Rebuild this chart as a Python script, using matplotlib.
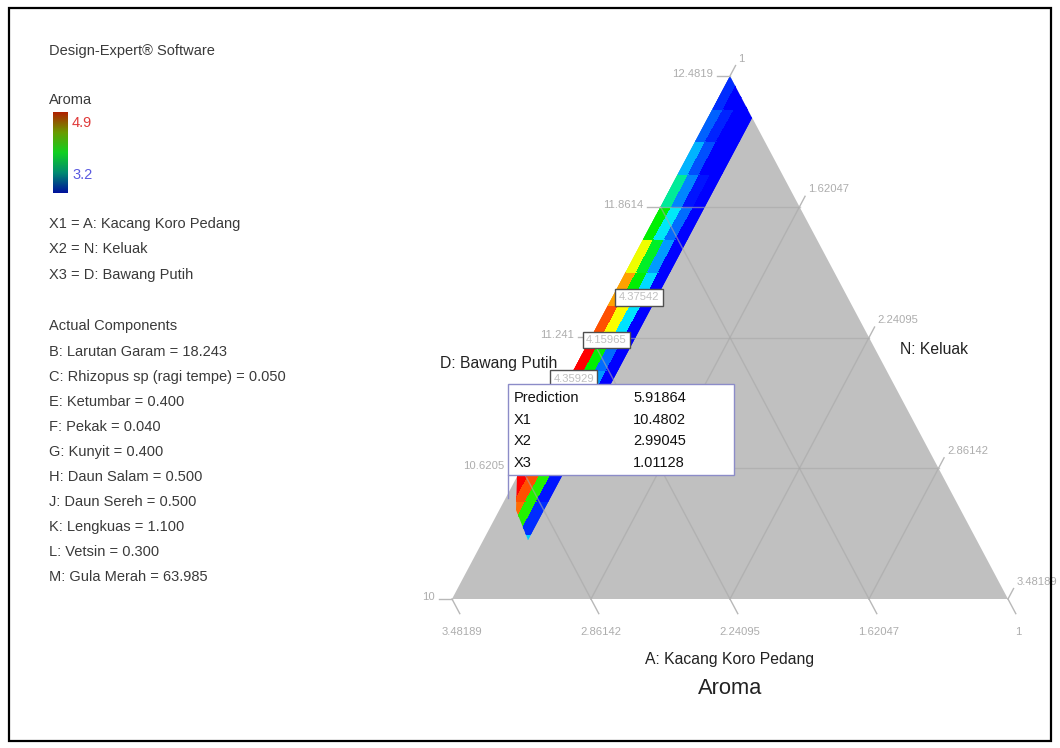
import numpy as np
import matplotlib
matplotlib.use('Agg')
import matplotlib.pyplot as plt
from matplotlib import font_manager
from matplotlib.colors import LinearSegmentedColormap, Normalize
from matplotlib.patches import Polygon, Rectangle
from matplotlib.cm import ScalarMappable

# ---------------- data ----------------
response = 'Aroma'
resp_low, resp_high = 3.2, 4.9

x1_range = (10.0, 12.4819)     # A: Kacang Koro Pedang (tinggi segitiga)
x2_range = (1.0, 3.48189)      # N: Keluak
x3_range = (1.0, 3.48189)      # D: Bawang Putih

x1_ticks = ['10', '10.6205', '11.241', '11.8614', '12.4819']
x2_ticks = ['3.48189', '2.86142', '2.24095', '1.62047', '1']
x3_ticks = ['1', '1.62047', '2.24095', '2.86142', '3.48189']

factor_lines = ['X1 = A: Kacang Koro Pedang', 'X2 = N: Keluak', 'X3 = D: Bawang Putih']
actual_names = ['B: Larutan Garam', 'C: Rhizopus sp (ragi tempe)', 'E: Ketumbar',
                'F: Pekak', 'G: Kunyit', 'H: Daun Salam', 'J: Daun Sereh',
                'K: Lengkuas', 'L: Vetsin', 'M: Gula Merah']
actual_vals = [18.243, 0.050, 0.400, 0.040, 0.400, 0.500, 0.500, 1.100, 0.300, 63.985]

# prediction flag
pred_value = 5.91864
pred_x1, pred_x2, pred_x3 = 10.4802, 2.99045, 1.01128

# daerah feasible (pecahan X3, pecahan X1)
band_r = [0.0, 0.0, 0.08, 0.08, 0.03]
band_h = [0.235, 1.0, 0.92, 0.113, 0.17]

# grid sel respon: baris = pecahan X1, kolom = pecahan X3
cell_h = [0.0625, 0.125, 0.1875, 0.25, 0.3125, 0.375, 0.4375, 0.5,
          0.5625, 0.625, 0.6875, 0.75, 0.8125, 0.875, 0.9375, 1.0]
cell_r = [0.0, 0.02, 0.04, 0.06, 0.08]
aroma_cells = [
    [4.90, 4.60, 4.05, 3.65],
    [4.90, 4.70, 4.10, 3.30],
    [4.90, 4.75, 4.10, 3.25],
    [4.90, 4.60, 3.90, 3.20],
    [4.90, 4.40, 3.75, 3.20],
    [4.90, 4.20, 3.55, 3.20],
    [4.90, 4.05, 3.45, 3.20],
    [4.75, 4.42, 3.70, 3.20],
    [4.60, 4.05, 3.68, 3.20],
    [4.40, 4.00, 3.55, 3.20],
    [4.05, 3.72, 3.45, 3.20],
    [3.85, 3.50, 3.25, 3.20],
    [3.60, 3.38, 3.20, 3.20],
    [3.42, 3.28, 3.20, 3.20],
    [3.30, 3.20, 3.20, 3.20],
]

# label kontur: (pecahan X1, pecahan X3, teks)
contour_labels = [(0.577, 0.048, '4.37542'), (0.495, 0.030, '4.15965'), (0.421, 0.0085, '4.35929')]

# ---------------- font ----------------
installed = {f.name for f in font_manager.fontManager.ttflist}
if 'Liberation Sans Narrow' in installed:
    FONT, fs = 'Liberation Sans Narrow', 1.0
else:
    FONT, fs = 'Liberation Sans', 0.81
plt.rcParams['font.family'] = [FONT, 'DejaVu Sans']

BODY = 13 * fs
TICK = 10 * fs
AXLAB = 14 * fs
TITLE = 19.5 * fs
TXT = '#3a3a3a'

W, H = 1060, 748
fig = plt.figure(figsize=(W / 100, H / 100), dpi=100)
fig.patch.set_facecolor('white')


def frac(v, rng):
    return (v - rng[0]) / (rng[1] - rng[0])


def to_xy(h, r):
    # koordinat kartesius dari pecahan X1 (h) dan X3 (r)
    return r + h / 2.0, h


# ---------------- panel kiri ----------------
def ftext(xp, yp, s, **kw):
    fig.text(xp / W, 1 - yp / H, s, va='center', ha='left', **kw)


ftext(49, 51, 'Design-Expert® Software', fontsize=BODY, color=TXT)
ftext(49, 100, response, fontsize=BODY, color=TXT)
ftext(72, 123, f'{resp_high}', fontsize=BODY, color='#e03a3a')
ftext(72, 175, f'{resp_low}', fontsize=BODY, color='#5a5ae0')

legend_cmap = LinearSegmentedColormap.from_list(
    'legend', ['#00109c', '#008a70', '#10d020', '#6a9a00', '#b02000'])
cax = fig.add_axes([53 / W, 1 - 193 / H, 15 / W, 81 / H])
cb = fig.colorbar(ScalarMappable(norm=Normalize(resp_low, resp_high), cmap=legend_cmap), cax=cax)
cb.outline.set_visible(False)
cax.set_yticks([])

for i, s in enumerate(factor_lines):
    ftext(49, 224 + 25.5 * i, s, fontsize=BODY, color=TXT)

ftext(49, 326, 'Actual Components', fontsize=BODY, color=TXT)
for i, (n, v) in enumerate(zip(actual_names, actual_vals)):
    ftext(49, 352 + 25 * i, f'{n} = {v:.3f}', fontsize=BODY, color=TXT)

# ---------------- segitiga ----------------
ax = fig.add_axes([0, 0, 1, 1])
ax.set_xlim(-452 / 556, (W - 452) / 556)
ax.set_ylim((599 - H) / 523, 599 / 523)
ax.axis('off')

ax.add_patch(Polygon([(0, 0), (1, 0), (0.5, 1)], closed=True, fc='#c0c0c0', ec='none', zorder=1))

# sel respon pada daerah feasible
hh, rr = np.meshgrid(cell_h, cell_r, indexing='ij')
X, Y = to_xy(hh, rr)
cmap = LinearSegmentedColormap.from_list(
    'aroma', [(0, '#0000ff'), (0.15, '#0070ff'), (0.3, '#00e8ff'),
              (0.5, '#00f000'), (0.72, '#ffff00'), (1, '#ff0000')])
mesh = ax.pcolormesh(X, Y, np.array(aroma_cells), cmap=cmap,
                     norm=Normalize(resp_low, resp_high), shading='flat',
                     edgecolors='face', linewidth=0.3, zorder=2)
bx, by = to_xy(np.array(band_h), np.array(band_r))
band = Polygon(np.column_stack([bx, by]), closed=True, transform=ax.transData)
mesh.set_clip_path(band)

# garis grid dalam
grid_kw = dict(color='#a8a8a8', lw=1.0, alpha=0.6, zorder=3)
for k in (1, 2, 3):
    f = k / 4
    ax.plot(*zip(to_xy(f, 0), to_xy(f, 1 - f)), **grid_kw)           # X1 tetap
    ax.plot(*zip(to_xy(0, f), to_xy(1 - f, f)), **grid_kw)           # X3 tetap
    ax.plot(*zip(to_xy(1 - f, 0), to_xy(0, 1 - f)), **grid_kw)       # X2 tetap

tick_kw = dict(color='#b8b8b8', lw=1.0, zorder=3)
lab_kw = dict(fontsize=TICK, color='#adadad', zorder=4)
sx, sy = 1 / 556, 1 / 523     # satu piksel dalam satuan data

# sumbu X1 (kiri)
for s in x1_ticks:
    h = frac(float(s), x1_range)
    x0, y0 = to_xy(h, 0)
    ax.plot([x0, x0 - 13 * sx], [y0, y0], **tick_kw)
    ax.text(x0 - 17 * sx, y0 + 2 * sy, s, ha='right', va='center', **lab_kw)

# sumbu X3 (kanan)
for s in x3_ticks:
    r = frac(float(s), x3_range)
    x0, y0 = to_xy(1 - r, r)
    x1, y1 = x0 + 0.01, y0 + 0.02
    ax.plot([x0, x1], [y0, y1], **tick_kw)
    ax.text(x1 + 3 * sx, y1 + 7 * sy, s, ha='left', va='center', **lab_kw)

# sumbu X2 (bawah)
for s in x2_ticks:
    q = frac(float(s), x2_range)
    x0, y0 = to_xy(0, 1 - q)
    x1, y1 = x0 + 0.014, y0 - 0.028
    ax.plot([x0, x1], [y0, y1], **tick_kw)
    ax.text(x1 + 2 * sx, y1 - 18 * sy, s, ha='center', va='center', **lab_kw)

# label kontur
for h, r, s in contour_labels:
    cx, cy = to_xy(h, r)
    ax.text(cx, cy, s, ha='center', va='center', fontsize=TICK, color='#c0c0c0', zorder=6,
            bbox=dict(boxstyle='square,pad=0.3', fc='white', ec='#505050', lw=1.0))

# nama komponen
ax.text(0.189, 0.451, 'D: Bawang Putih', ha='right', va='center', fontsize=AXLAB, color='#222222', zorder=5)
ax.text(0.806, 0.478, 'N: Keluak', ha='left', va='center', fontsize=AXLAB, color='#222222', zorder=5)
ax.text(0.5, -0.115, 'A: Kacang Koro Pedang', ha='center', va='center', fontsize=AXLAB, color='#222222')
ax.text(0.5, -0.172, response, ha='center', va='center', fontsize=TITLE, color='#222222')

# flag prediksi
ph = frac(pred_x1, x1_range)
pr = frac(pred_x3, x3_range)
px, py = to_xy(ph, pr)
box_w, box_b, box_t = 226 * sx, 23 * sy, 114 * sy
ax.plot([px, px], [py, py + box_b], color='#8c8cc8', lw=1.0, zorder=7)
ax.add_patch(Rectangle((px, py + box_b), box_w, box_t - box_b, fc='white', ec='#8c8cc8', lw=1.0, zorder=7))
rows = [('Prediction', f'{pred_value:.5f}'), ('X1', f'{pred_x1:.4f}'),
        ('X2', f'{pred_x2:.5f}'), ('X3', f'{pred_x3:.5f}')]
for i, (a, b) in enumerate(rows):
    yy = py + (100 - 21.7 * i) * sy
    ax.text(px + 5 * sx, yy, a, ha='left', va='center', fontsize=BODY, color='#111111', zorder=8)
    ax.text(px + 125 * sx, yy, b, ha='left', va='center', fontsize=BODY, color='#111111', zorder=8)

# bingkai luar
fig.add_artist(Rectangle((9 / W, 7 / H), 1042 / W, 733 / H, transform=fig.transFigure,
                         fill=False, ec='black', lw=1.6))

fig.savefig('out.png', dpi=100)
